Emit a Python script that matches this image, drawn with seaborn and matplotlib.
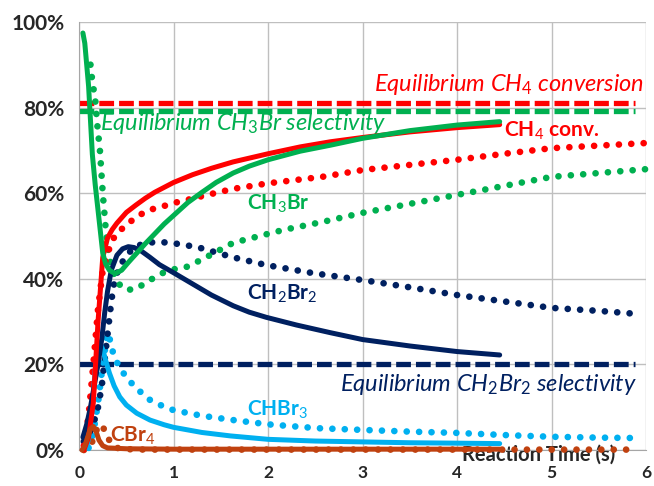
"""methane bromination: selectivity and conversion vs reaction time"""

import seaborn as sns
import matplotlib.pyplot as plt
import pandas as pd

t_ch4_exp = [0.05, 0.1, 0.15, 0.2, 0.25, 0.3, 0.35, 0.4, 0.5, 0.6, 0.7, 0.8, 1.0, 1.2, 1.4, 1.63, 2.0, 2.34, 2.66, 3.0, 3.5, 4.0, 4.45]
ch4_exp = [0, 3, 11, 30, 45, 49.5, 51.5, 53, 55.5, 57.2, 58.8, 60.2, 62.5, 64.3, 65.8, 67.3, 69.2, 70.8, 72, 73, 74.3, 75.3, 76]

t_ch3br_exp = [0.04, 0.06, 0.08, 0.1, 0.12, 0.14, 0.17, 0.19, 0.22, 0.25, 0.28, 0.32, 0.38, 0.45, 0.52, 0.61, 0.7, 0.8, 0.9, 1.0,
               1.15, 1.3, 1.45, 1.63, 1.8, 2.0, 2.34, 2.66, 3.0, 3.5, 4.0, 4.45]
ch3br_exp = [97.4, 95, 90, 85, 77, 69, 62, 58, 52, 46, 43.5, 42, 41.2, 42, 43.8, 46, 48.2, 50.5, 52.8, 54.8,
             57.8, 60.2, 62.5, 64.7, 66.3, 67.8, 69.8, 71.2, 72.8, 74.6, 75.9, 76.7]

t_ch2br2_exp = [0.04, 0.08, 0.12, 0.16, 0.2, 0.24, 0.27, 0.3, 0.34, 0.4, 0.46, 0.52, 0.58, 0.65, 0.75, 0.85, 1.0, 1.2, 1.4,
                1.63, 1.8, 1.98, 2.3, 2.66, 3.0, 3.5, 4.0, 4.45]
ch2br2_exp = [3, 6, 10, 15, 20, 26, 32, 37, 42, 45.5, 47, 47.5, 47.3, 46.6, 45, 43.3, 41.4, 38.8, 36.2,
              33.7, 32.2, 31, 29.2, 27.4, 25.8, 24.3, 23, 22.2]

t_chbr3_exp = [0.08, 0.1, 0.12, 0.15, 0.17, 0.2, 0.22, 0.25, 0.28, 0.32, 0.37, 0.43, 0.5, 0.61, 0.75, 0.9, 1.0, 1.3, 1.6,
               2.0, 2.5, 3.0, 3.5, 4.0, 4.45]
chbr3_exp = [0.5, 3, 7, 13, 18.7, 23.5, 25, 23.5, 21, 18, 15, 12.4, 10.5, 8.6, 7, 5.9, 5.3, 4.1, 3.3,
             2.5, 2.1, 1.9, 1.7, 1.6, 1.5]

t_cbr4_exp = [0.03, 0.06, 0.09, 0.12, 0.15, 0.18, 0.21, 0.25, 0.3, 0.5, 1.0, 2.0, 3.0, 4.45]
cbr4_exp = [0, 1, 3, 5, 5.5, 4.3, 2.3, 1, 0.5, 0.3, 0.2, 0.2, 0.2, 0.2]

# model curves (dotted)
t_ch4_mod = [0.05, 0.1, 0.15, 0.2, 0.25, 0.3, 0.38, 0.5, 0.61, 0.73, 0.87, 1.0, 1.14, 1.3, 1.63, 2.0, 2.57, 3.0, 3.5,
             4.0, 4.5, 5.0, 5.5, 6.0]
ch4_mod = [1, 8, 20, 33, 42, 46, 50.2, 52.6, 54.5, 56, 56.8, 57.7, 58.4, 59.3, 61, 62.3, 63.8, 65.4, 66.6,
           67.8, 69.2, 70.5, 71.1, 71.7]

t_ch3br_mod = [0.12, 0.14, 0.17, 0.19, 0.22, 0.25, 0.28, 0.31, 0.35, 0.4, 0.45, 0.5, 0.6, 0.75, 0.89, 1.0, 1.14, 1.3,
               1.63, 2.0, 2.16, 2.58, 3.0, 3.5, 4.0, 4.5, 5.0, 5.5, 6.0]
ch3br_mod = [90, 86, 82, 76.4, 70, 60, 52, 46, 42, 39.5, 38, 37.4, 37.6, 39.7, 41.4, 42.2, 42.8, 44.5,
             48.4, 50.5, 51.4, 53.3, 55.4, 57.5, 59.6, 61.7, 63.8, 64.7, 65.6]

t_ch2br2_mod = [0.05, 0.1, 0.15, 0.2, 0.24, 0.28, 0.33, 0.36, 0.41, 0.47, 0.57, 0.7, 0.85, 1.0, 1.25, 1.63, 1.98, 2.48,
                3.0, 3.5, 4.0, 4.5, 5.0, 5.5, 5.9]
ch2br2_mod = [2, 3.5, 6, 10, 15, 23, 32.7, 38, 42, 44.4, 47.2, 48.4, 48.6, 48.3, 47.4, 45, 43.2, 41.3,
              39.7, 38, 36.2, 34.7, 33.2, 32.5, 31.8]

t_chbr3_mod = [0.1, 0.15, 0.2, 0.25, 0.3, 0.33, 0.36, 0.42, 0.5, 0.6, 0.75, 0.88, 1.0, 1.3, 1.63, 2.0, 2.52, 3.0, 3.5,
               4.0, 4.5, 5.0, 5.5, 5.9]
chbr3_mod = [0.5, 4, 11, 20, 27.4, 25.5, 22.6, 19.5, 17, 14.5, 11.7, 10.3, 9.3, 8, 7, 6, 5.1, 4.7, 4.3,
             4.0, 3.5, 3.1, 2.9, 2.8]

t_cbr4_mod = [0.05, 0.1, 0.14, 0.18, 0.22, 0.26, 0.3, 0.35, 0.4, 0.5, 0.7, 1.0, 2.0, 3.0, 4.0, 5.0, 5.9]
cbr4_mod = [0, 0.5, 2, 4.5, 6, 5, 3, 1.2, 0.5, 0.2, 0.1, 0.1, 0.1, 0.1, 0.1, 0.1, 0.1]

# equilibrium values
eq_ch4_conv = 81.1
eq_ch3br_sel = 79.2
eq_ch2br2_sel = 20.0
eq_t_end = 5.88

RED = "#FF0000"
GREEN = "#00B050"
NAVY = "#002060"
CYAN = "#00B0F0"
BROWN = "#C0410F"

sns.set_style("whitegrid")
plt.rcParams["font.family"] = ["Lato", "DejaVu Sans"]
plt.rcParams["mathtext.fontset"] = "custom"
plt.rcParams["mathtext.rm"] = "Lato"
plt.rcParams["mathtext.it"] = "Lato:italic"
plt.rcParams["mathtext.bf"] = "Lato:bold"

fig = plt.figure(figsize=(6.54, 4.86), dpi=100)
ax = fig.add_axes([0.121, 0.074, 0.867, 0.881])

series = {
    "ch4": (RED, t_ch4_exp, ch4_exp, t_ch4_mod, ch4_mod),
    "ch3br": (GREEN, t_ch3br_exp, ch3br_exp, t_ch3br_mod, ch3br_mod),
    "ch2br2": (NAVY, t_ch2br2_exp, ch2br2_exp, t_ch2br2_mod, ch2br2_mod),
    "chbr3": (CYAN, t_chbr3_exp, chbr3_exp, t_chbr3_mod, chbr3_mod),
    "cbr4": (BROWN, t_cbr4_exp, cbr4_exp, t_cbr4_mod, cbr4_mod),
}

# equilibrium dashes
for val, col in [(eq_ch4_conv, RED), (eq_ch3br_sel, GREEN), (eq_ch2br2_sel, NAVY)]:
    ax.hlines(val, 0, eq_t_end, colors=col, lw=3.8, linestyles=(0, (2.8, 0.95)), zorder=2)

# model (dotted)
for key in ["chbr3", "ch2br2", "ch3br", "ch4", "cbr4"]:
    col, _, _, tm, vm = series[key]
    df = pd.DataFrame({"t": tm, "v": vm})
    sns.lineplot(x="t", y="v", data=df, ax=ax, color=col, lw=4.8,
                 linestyle=(0, (0.01, 1.85)), dash_capstyle="round", clip_on=False, zorder=3)

# experiment (solid)
for key in ["chbr3", "ch2br2", "ch4", "ch3br", "cbr4"]:
    col, te, ve, _, _ = series[key]
    df = pd.DataFrame({"t": te, "v": ve})
    sns.lineplot(x="t", y="v", data=df, ax=ax, color=col, lw=3.6,
                 solid_capstyle="round", solid_joinstyle="round", clip_on=False, zorder=4)

ax.set_xlim(0, 6)
ax.set_ylim(0, 100)
ax.set_xticks(range(0, 7))
ax.set_yticks(range(0, 101, 20))
ax.set_yticklabels([f"{v}%" for v in range(0, 101, 20)])
ax.tick_params(axis="both", length=3.6, width=1, color="#A6A6A6")
ax.tick_params(axis="y", labelsize=15, pad=7)
ax.tick_params(axis="x", labelsize=12.5, pad=7.5)
for lab in ax.get_xticklabels() + ax.get_yticklabels():
    lab.set_fontweight("bold")
ax.grid(color="#BFBFBF", lw=1)
for side in ["top", "right"]:
    ax.spines[side].set_visible(False)
for side in ["left", "bottom"]:
    ax.spines[side].set_color("#A6A6A6")

ax.set_ylabel("")
ax.set_xlabel("Reaction Time (s)", fontsize=14.5, fontweight="bold")
ax.xaxis.set_label_coords(0.81, -0.011)
ax.xaxis.label.set_va("center")

# labels
ax.text(5.98, 85.3, r"Equilibrium CH$_4$ conversion", color=RED, fontsize=17, style="italic", ha="right", va="center")
ax.text(0.22, 76.2, r"Equilibrium CH$_3$Br selectivity", color=GREEN, fontsize=17, style="italic", ha="left", va="center")
ax.text(4.5, 74.5, r"CH$_4$ conv.", color=RED, fontsize=15, fontweight="bold", ha="left", va="center")
ax.text(1.78, 57.5, r"CH$_3$Br", color=GREEN, fontsize=15, fontweight="bold", ha="left", va="center")
ax.text(1.78, 36.5, r"CH$_2$Br$_2$", color=NAVY, fontsize=15, fontweight="bold", ha="left", va="center")
ax.text(5.9, 15.4, r"Equilibrium CH$_2$Br$_2$ selectivity", color=NAVY, fontsize=17, style="italic", ha="right", va="center")
ax.text(1.78, 9.5, r"CHBr$_3$", color=CYAN, fontsize=15, fontweight="bold", ha="left", va="center")
ax.text(0.33, 3.2, r"CBr$_4$", color=BROWN, fontsize=15, fontweight="bold", ha="left", va="center")

fig.savefig("out.png", dpi=100)
